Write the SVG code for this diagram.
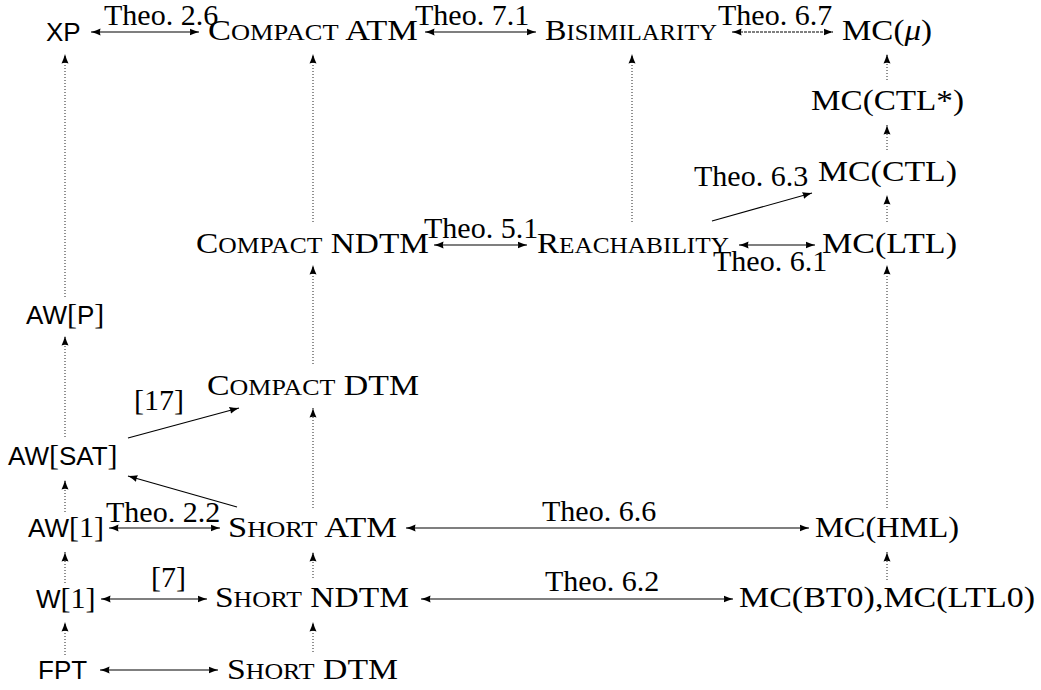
<svg xmlns="http://www.w3.org/2000/svg" width="1041" height="690" viewBox="0 0 1041 690">
<style>
text{fill:#000}
.r{font-family:"Liberation Serif","Times New Roman",serif;font-size:30px}
.sf{font-family:"Liberation Sans",Arial,sans-serif;font-size:26px}
.sr{font-family:"Liberation Serif","Times New Roman",serif;font-size:30px}
.s{font-size:23px}
.solid{stroke:#000;stroke-width:1.2;fill:none}
.dense{stroke:#000;stroke-width:1.2;fill:none;stroke-dasharray:3 1}
.dot{stroke:#222;stroke-width:1;fill:none;stroke-dasharray:1 2}
.ar{marker-end:url(#ah)}
.ar2{marker-start:url(#ah);marker-end:url(#ah)}
</style>
<defs>
<marker id="ah" markerUnits="userSpaceOnUse" markerWidth="10" markerHeight="8" refX="9.5" refY="3.5" orient="auto-start-reverse" viewBox="0 0 10 7">
<path d="M9.5,3.5 Q4.5,2.2 0,0 Q1.4,3.5 0,7 Q4.5,4.8 9.5,3.5 Z" fill="#000" stroke="none"/>
</marker>
</defs>

<g id="connectors">
<!-- horizontal double arrows -->
<line class="solid ar2" x1="91" y1="32" x2="199" y2="32"/>
<line class="solid ar2" x1="425" y1="32" x2="536" y2="32"/>
<line class="dense ar2" x1="732" y1="32" x2="833" y2="32"/>
<line class="solid ar2" x1="434" y1="245" x2="527" y2="245"/>
<line class="solid ar2" x1="739" y1="245" x2="815" y2="245"/>
<line class="solid ar2" x1="109" y1="528" x2="220" y2="528"/>
<line class="solid ar2" x1="406" y1="528" x2="809" y2="528"/>
<line class="solid ar2" x1="101" y1="599" x2="207" y2="599"/>
<line class="solid ar2" x1="421" y1="599" x2="733" y2="599"/>
<line class="solid ar2" x1="100" y1="670" x2="218" y2="670"/>
<!-- diagonal arrows -->
<line class="solid ar" x1="128" y1="438" x2="239" y2="408"/>
<line class="solid ar" x1="237" y1="507" x2="128" y2="476"/>
<line class="solid ar" x1="712" y1="221" x2="812" y2="193"/>
<!-- vertical dotted arrows -->
<line class="dot ar" x1="65" y1="655" x2="65" y2="622"/>
<line class="dot ar" x1="65" y1="583" x2="65" y2="552"/>
<line class="dot ar" x1="65" y1="512" x2="65" y2="480"/>
<line class="dot ar" x1="65" y1="437" x2="65" y2="336"/>
<line class="dot ar" x1="65" y1="297" x2="65" y2="54"/>
<line class="dot ar" x1="313" y1="652" x2="313" y2="622"/>
<line class="dot ar" x1="313" y1="578" x2="313" y2="552"/>
<line class="dot ar" x1="313" y1="508" x2="313" y2="408"/>
<line class="dot ar" x1="313" y1="364" x2="313" y2="265"/>
<line class="dot ar" x1="313" y1="222" x2="313" y2="54"/>
<line class="dot ar" x1="632" y1="222" x2="632" y2="54"/>
<line class="dot ar" x1="887" y1="580" x2="887" y2="552"/>
<line class="dot ar" x1="887" y1="508" x2="887" y2="265"/>
<line class="dot ar" x1="887" y1="222" x2="887" y2="195"/>
<line class="dot ar" x1="887" y1="150" x2="887" y2="125"/>
<line class="dot ar" x1="887" y1="80" x2="887" y2="54"/>
<!-- edge labels -->
<text class="r" x="104" y="25">Theo. 2.6</text>
<text class="r" x="415" y="25">Theo. 7.1</text>
<text class="r" x="718" y="25">Theo. 6.7</text>
<text class="r" x="694" y="186">Theo. 6.3</text>
<text class="r" x="424" y="238">Theo. 5.1</text>
<text class="r" x="713" y="271">Theo. 6.1</text>
<text class="r" x="134" y="410">[17]</text>
<text class="r" x="106" y="522">Theo. 2.2</text>
<text class="r" x="542" y="521">Theo. 6.6</text>
<text class="r" x="545" y="591">Theo. 6.2</text>
<text class="r" x="151" y="587">[7]</text>
</g>

<g id="n-xp"><text class="sf" x="46" y="41">XP</text></g>
<g id="n-compact-atm"><text class="r" x="208" y="40" textLength="210" lengthAdjust="spacingAndGlyphs">C<tspan class="s">OMPACT</tspan> ATM</text></g>
<g id="n-bisimilarity"><text class="r" x="545" y="40" textLength="172" lengthAdjust="spacingAndGlyphs">B<tspan class="s">ISIMILARITY</tspan></text></g>
<g id="n-mc-mu"><text class="r" x="842" y="40" textLength="90" lengthAdjust="spacingAndGlyphs">MC(<tspan font-style="italic">μ</tspan>)</text></g>
<g id="n-mc-ctlstar"><text class="r" x="811" y="110" textLength="153" lengthAdjust="spacingAndGlyphs">MC(CTL*)</text></g>
<g id="n-mc-ctl"><text class="r" x="818" y="181" textLength="139" lengthAdjust="spacingAndGlyphs">MC(CTL)</text></g>
<g id="n-compact-ndtm"><text class="r" x="196" y="253" textLength="233" lengthAdjust="spacingAndGlyphs">C<tspan class="s">OMPACT</tspan> NDTM</text></g>
<g id="n-reachability"><text class="r" x="537" y="253" textLength="192" lengthAdjust="spacingAndGlyphs">R<tspan class="s">EACHABILITY</tspan></text></g>
<g id="n-mc-ltl"><text class="r" x="822" y="253" textLength="135" lengthAdjust="spacingAndGlyphs">MC(LTL)</text></g>
<g id="n-aw-p"><text x="26" y="324"><tspan class="sf">AW</tspan><tspan class="sr">[</tspan><tspan class="sf">P</tspan><tspan class="sr">]</tspan></text></g>
<g id="n-compact-dtm"><text class="r" x="207" y="395" textLength="212" lengthAdjust="spacingAndGlyphs">C<tspan class="s">OMPACT</tspan> DTM</text></g>
<g id="n-aw-sat"><text x="8" y="465"><tspan class="sf">AW</tspan><tspan class="sr">[</tspan><tspan class="sf">SAT</tspan><tspan class="sr">]</tspan></text></g>
<g id="n-aw-1"><text x="28" y="537"><tspan class="sf">AW</tspan><tspan class="sr">[1]</tspan></text></g>
<g id="n-short-atm"><text class="r" x="228" y="537" textLength="169" lengthAdjust="spacingAndGlyphs">S<tspan class="s">HORT</tspan> ATM</text></g>
<g id="n-mc-hml"><text class="r" x="815" y="537" textLength="144" lengthAdjust="spacingAndGlyphs">MC(HML)</text></g>
<g id="n-w-1"><text x="36" y="608"><tspan class="sf">W</tspan><tspan class="sr">[1]</tspan></text></g>
<g id="n-short-ndtm"><text class="r" x="215" y="607" textLength="194" lengthAdjust="spacingAndGlyphs">S<tspan class="s">HORT</tspan> NDTM</text></g>
<g id="n-mc-bt0-ltl0"><text class="r" x="739" y="607" textLength="296" lengthAdjust="spacingAndGlyphs">MC(BT0),MC(LTL0)</text></g>
<g id="n-fpt"><text class="sf" x="38" y="679">FPT</text></g>
<g id="n-short-dtm"><text class="r" x="227" y="679" textLength="171" lengthAdjust="spacingAndGlyphs">S<tspan class="s">HORT</tspan> DTM</text></g>
</svg>
